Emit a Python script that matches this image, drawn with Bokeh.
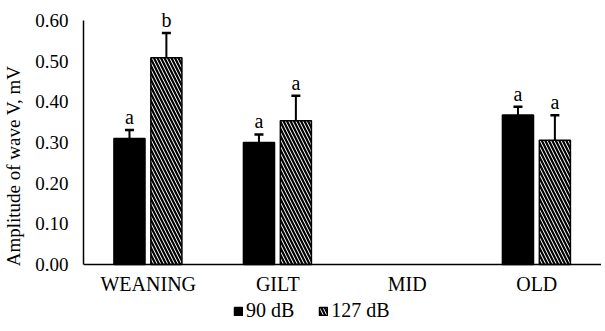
from bokeh.plotting import figure
from bokeh.models import (ColumnDataSource, FactorRange, FixedTicker, NumeralTickFormatter,
                          Whisker, TeeHead, Legend, LegendItem, Range1d, LabelSet, Span)
from bokeh.transform import dodge
from bokeh.core.properties import value
from bokeh.embed import file_html
from bokeh.resources import INLINE

categories = ["WEANING", "GILT", "MID", "OLD"]
v90 = [0.31, 0.30, None, 0.368]
e90 = [0.021, 0.02, None, 0.02]
l90 = ["a", "a", None, "a"]
v127 = [0.509, 0.354, None, 0.306]
e127 = [0.061, 0.061, None, 0.061]
l127 = ["b", "a", None, "a"]
series_names = ["90 dB", "127 dB"]
y_ticks = [0.0, 0.1, 0.2, 0.3, 0.4, 0.5, 0.6]

FONT = "Liberation Serif"

def make_source(vals, errs, labs):
    c, t, u, lab = [], [], [], []
    for cat, v, e, l in zip(categories, vals, errs, labs):
        if v is None:
            continue
        c.append(cat); t.append(v); u.append(v + e); lab.append(l)
    return ColumnDataSource(dict(cat=c, top=t, upper=u, lab=lab))

s90 = make_source(v90, e90, l90)
s127 = make_source(v127, e127, l127)
cat_src = ColumnDataSource(dict(cat=categories, y=[0.0] * len(categories)))

# frame extends below zero so the category labels and legend live inside it
p = figure(x_range=FactorRange(*categories, range_padding=0), y_range=Range1d(-0.1452, 0.63),
           frame_width=518, frame_height=315, output_backend="svg", toolbar_location=None,
           x_axis_location=None,
           min_border_left=79, min_border_right=0, min_border_top=8, min_border_bottom=0)
p.outline_line_color = None
p.xgrid.visible = False
p.ygrid.visible = False
p.background_fill_color = "white"
p.border_fill_color = "white"

d1 = -0.145
d2 = 0.14
w = 0.24

r1 = p.vbar(x=dodge("cat", d1, range=p.x_range), top="top", width=w, source=s90,
            fill_color="black", line_color="black", line_width=1.5)
r2 = p.vbar(x=dodge("cat", d2, range=p.x_range), top="top", width=w, source=s127,
            fill_color="white", line_color="black", line_width=1.5,
            hatch_pattern="\\", hatch_color="black", hatch_scale=7, hatch_weight=2.2)

for src, d in ((s90, d1), (s127, d2)):
    wk = Whisker(base=dodge("cat", d, range=p.x_range), lower="top", upper="upper", source=src,
                 line_color="black", line_width=2,
                 upper_head=TeeHead(size=9, line_color="black", line_width=2.5),
                 lower_head=None)
    p.add_layout(wk)
    lbl = LabelSet(x=dodge("cat", d, range=p.x_range), y="upper", text="lab", source=src,
                   text_align="center", text_baseline="alphabetic", y_offset=6,
                   text_font=value(FONT), text_font_size="20px", text_color="black")
    p.add_layout(lbl)

# category axis: baseline line at zero plus category labels
p.add_layout(Span(location=0, dimension="width", line_color="black", line_width=1.5))
p.text(x="cat", y="y", text="cat", source=cat_src, text_align="center",
       text_baseline="middle", y_offset=20,
       text_font=value(FONT), text_font_size="20px", text_color="black")

p.yaxis.ticker = FixedTicker(ticks=y_ticks)
p.yaxis.formatter = NumeralTickFormatter(format="0.00")
p.yaxis.bounds = (0, 0.6)
p.yaxis.axis_label = "Amplitude of wave V, mV"
ax = p.yaxis[0]
ax.major_tick_line_color = None
ax.minor_tick_line_color = None
ax.axis_line_color = "black"
ax.axis_line_width = 1.5
ax.major_label_text_font = FONT
ax.major_label_text_color = "black"
ax.major_label_text_font_size = "19px"
ax.major_label_standoff = 9
ax.axis_label_text_font = FONT
ax.axis_label_text_font_style = "normal"
ax.axis_label_text_color = "black"
ax.axis_label_text_font_size = "19px"
ax.axis_label_standoff = 8

legend = Legend(items=[LegendItem(label=series_names[0], renderers=[r1]),
                       LegendItem(label=series_names[1], renderers=[r2])],
                orientation="horizontal", location=(150, 1),
                label_text_font=FONT, label_text_font_size="20px", label_text_color="black",
                glyph_width=10, glyph_height=10, label_standoff=3, spacing=24,
                border_line_color=None, background_fill_alpha=0, padding=0, margin=0)
p.add_layout(legend, "center")

open("out.html", "w").write(file_html(p, INLINE))
